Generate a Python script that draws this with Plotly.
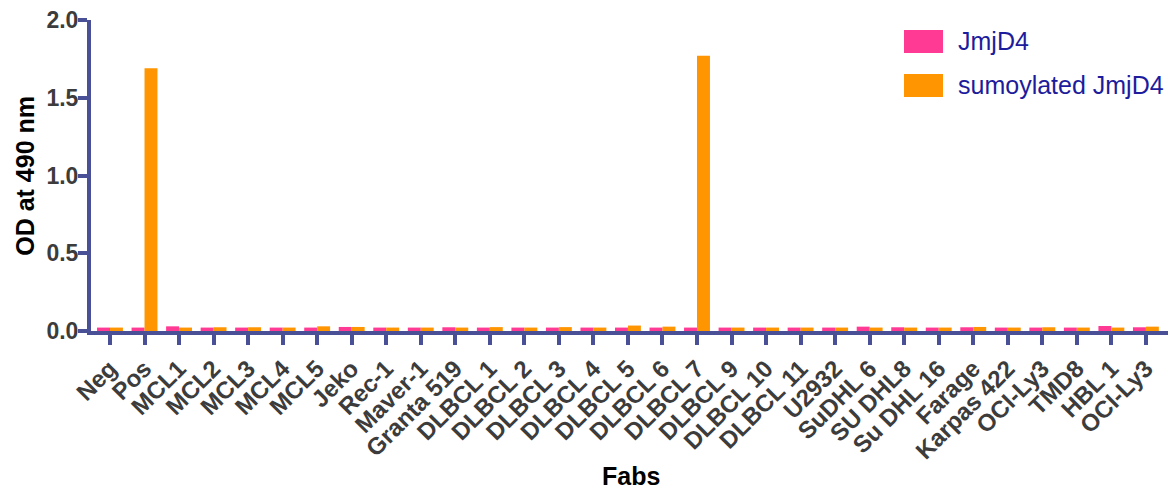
import plotly.graph_objects as go

# Fab panel screened against the two antigens
fabs = ["Neg", "Pos", "MCL1", "MCL2", "MCL3", "MCL4", "MCL5", "Jeko", "Rec-1",
        "Maver-1", "Granta 519", "DLBCL 1", "DLBCL 2", "DLBCL 3", "DLBCL 4",
        "DLBCL 5", "DLBCL 6", "DLBCL 7", "DLBCL 9", "DLBCL 10", "DLBCL 11",
        "U2932", "SuDHL 6", "SU DHL8", "Su DHL 16", "Farage", "Karpas 422",
        "OCI-Ly3", "TMD8", "HBL 1", "OCI-Ly3"]

jmjd4 = [0.022, 0.022, 0.030, 0.022, 0.022, 0.022, 0.022, 0.026, 0.022,
         0.022, 0.024, 0.022, 0.022, 0.022, 0.022, 0.022, 0.022, 0.022,
         0.022, 0.022, 0.022, 0.022, 0.028, 0.024, 0.022, 0.024, 0.022,
         0.022, 0.022, 0.032, 0.024]

sumo_jmjd4 = [0.022, 1.69, 0.022, 0.024, 0.024, 0.022, 0.030, 0.026, 0.022,
              0.022, 0.022, 0.025, 0.022, 0.025, 0.022, 0.035, 0.028, 1.77,
              0.022, 0.022, 0.022, 0.022, 0.022, 0.022, 0.022, 0.026, 0.022,
              0.024, 0.022, 0.022, 0.028]

y_ticks = [0.0, 0.5, 1.0, 1.5, 2.0]
y_tick_text = ["0.0", "0.5", "1.0", "1.5", "2.0"]

PINK = "#FF3A95"
ORANGE = "#FF9500"
AXIS = "#4A5096"
LABEL = "#3C3C3C"
LEGEND_TEXT = "#1C1C9C"
FONT = "Liberation Sans, Arial, sans-serif"

pos = list(range(len(fabs)))

fig = go.Figure()
fig.add_trace(go.Bar(x=pos, y=jmjd4, name="JmjD4",
                     marker=dict(color=PINK, line=dict(width=0))))
fig.add_trace(go.Bar(x=pos, y=sumo_jmjd4, name="sumoylated JmjD4",
                     marker=dict(color=ORANGE, line=dict(width=0))))

W, H = 1168, 490
ML, MR, MT, MB = 91, 0, 20, 158.5
pw = W - ML - MR
ph = H - MT - MB


def px_x(x):
    return (x - ML) / pw


def px_y(y):
    return (H - MB - y) / ph


# legend drawn as swatches with text beside them
legend_rows = [("JmjD4", PINK, 30, 53), ("sumoylated JmjD4", ORANGE, 74, 97)]
shapes = []
annotations = []
for label, color, y0, y1 in legend_rows:
    shapes.append(dict(type="rect", xref="paper", yref="paper",
                       x0=px_x(904), x1=px_x(943), y0=px_y(y1), y1=px_y(y0),
                       fillcolor=color, line=dict(width=0)))
    annotations.append(dict(xref="paper", yref="paper", x=px_x(956),
                            y=px_y((y0 + y1) / 2), xanchor="left",
                            yanchor="middle", text=label, showarrow=False,
                            font=dict(family=FONT, size=25, color=LEGEND_TEXT)))

annotations.append(dict(xref="paper", yref="paper", x=px_x(25),
                        y=px_y(176), xanchor="center", yanchor="middle",
                        textangle=-90, text="<b>OD at 490 nm</b>",
                        showarrow=False,
                        font=dict(family=FONT, size=25, color="black")))
annotations.append(dict(xref="paper", yref="paper", x=px_x(631),
                        y=px_y(477), xanchor="center", yanchor="middle",
                        text="<b>Fabs</b>", showarrow=False,
                        font=dict(family=FONT, size=25, color="black")))

fig.update_layout(
    width=W, height=H,
    margin=dict(l=ML, r=MR, t=MT, b=MB, pad=0),
    paper_bgcolor="white", plot_bgcolor="white",
    barmode="group", bargap=0.25, bargroupgap=0,
    showlegend=False,
    shapes=shapes, annotations=annotations,
    font=dict(family=FONT),
)

fig.update_xaxes(
    range=[-0.55, 30.64], automargin=False,
    tickmode="array", tickvals=pos, ticktext=[f"<b>{f}</b>" for f in fabs],
    tickangle=-45, tickfont=dict(family=FONT, size=24, color=LABEL),
    showline=True, linecolor=AXIS, linewidth=4,
    ticks="outside", ticklen=10, tickwidth=4, tickcolor=AXIS,
    showgrid=False, zeroline=False,
)

fig.update_yaxes(
    range=[0, 2.0], automargin=False,
    tickmode="array", tickvals=y_ticks,
    ticktext=[f"<b>{t}</b>" for t in y_tick_text],
    tickfont=dict(family=FONT, size=23, color=LABEL),
    ticklabelstandoff=-5,
    showline=True, linecolor=AXIS, linewidth=4,
    ticks="outside", ticklen=9, tickwidth=4, tickcolor=AXIS,
    showgrid=False, zeroline=False,
)

fig.write_html("out.html")
